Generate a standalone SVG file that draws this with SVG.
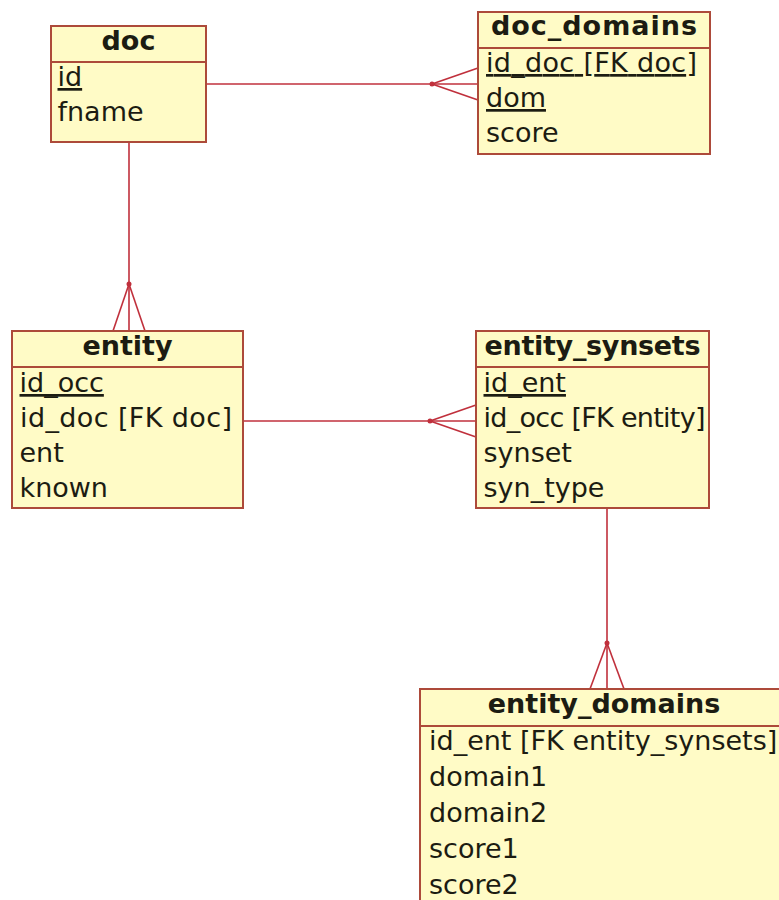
<svg xmlns="http://www.w3.org/2000/svg" width="779" height="900" viewBox="0 0 779 900">
  <style>
    .box { fill: #fffbc6; stroke: #ad4a3a; stroke-width: 2; }
    .sep { stroke: #ad4a3a; stroke-width: 2; }
    .title { font-family: "DejaVu Sans", sans-serif; font-size: 27px; font-weight: bold; fill: #1c1c12; text-anchor: middle; }
    .attr { font-family: "DejaVu Sans", sans-serif; font-size: 27px; fill: #1c1c12; }
    .key { text-decoration: underline; }
    .rel { stroke: #c0303c; stroke-width: 1.6; fill: none; }
    .dot { fill: #c0303c; }
  </style>
  <rect width="779" height="900" fill="#ffffff"/>

  <!-- relationships (one-to-many, crow's foot at the many side) -->
  <g id="connectors">
    <!-- doc 1..n doc_domains -->
    <line class="rel" x1="206" y1="84" x2="478" y2="84"/>
    <line class="rel" x1="432" y1="84" x2="478" y2="68"/>
    <line class="rel" x1="432" y1="84" x2="478" y2="100"/>
    <circle class="dot" cx="432" cy="84" r="2.5"/>
    <!-- doc 1..n entity -->
    <line class="rel" x1="129" y1="142" x2="129" y2="331"/>
    <line class="rel" x1="129" y1="284" x2="113" y2="331"/>
    <line class="rel" x1="129" y1="284" x2="145" y2="331"/>
    <circle class="dot" cx="129" cy="284" r="2.5"/>
    <!-- entity 1..n entity_synsets -->
    <line class="rel" x1="243" y1="421" x2="476" y2="421"/>
    <line class="rel" x1="430" y1="421" x2="476" y2="405"/>
    <line class="rel" x1="430" y1="421" x2="476" y2="437"/>
    <circle class="dot" cx="430" cy="421" r="2.5"/>
    <!-- entity_synsets 1..n entity_domains -->
    <line class="rel" x1="607" y1="508" x2="607" y2="689"/>
    <line class="rel" x1="607" y1="643" x2="590" y2="689"/>
    <line class="rel" x1="607" y1="643" x2="624" y2="689"/>
    <circle class="dot" cx="607" cy="643" r="2.5"/>
  </g>

  <g id="doc">
    <rect class="box" x="51" y="26" width="155" height="116"/>
    <line class="sep" x1="51" y1="62" x2="206" y2="62"/>
    <text class="title" x="128.5" y="50">doc</text>
    <text class="attr key" x="57.5" y="86">id</text>
    <text class="attr" x="57.5" y="121">fname</text>
  </g>

  <g id="doc_domains">
    <rect class="box" x="478" y="12" width="232" height="142"/>
    <line class="sep" x1="478" y1="48" x2="710" y2="48"/>
    <text class="title" x="594" y="35" textLength="206" lengthAdjust="spacing">doc_domains</text>
    <text class="attr key" x="486" y="72" textLength="211" lengthAdjust="spacing">id_doc [FK doc]</text>
    <text class="attr key" x="486" y="107">dom</text>
    <text class="attr" x="486" y="142">score</text>
  </g>

  <g id="entity">
    <rect class="box" x="12" y="331" width="231" height="177"/>
    <line class="sep" x1="12" y1="367" x2="243" y2="367"/>
    <text class="title" x="127.5" y="355">entity</text>
    <text class="attr key" x="19.5" y="392">id_occ</text>
    <text class="attr" x="20" y="427" textLength="212" lengthAdjust="spacing">id_doc [FK doc]</text>
    <text class="attr" x="19.5" y="462">ent</text>
    <text class="attr" x="19.5" y="497">known</text>
  </g>

  <g id="entity_synsets">
    <rect class="box" x="476" y="331" width="233" height="177"/>
    <line class="sep" x1="476" y1="367" x2="709" y2="367"/>
    <text class="title" x="592.5" y="355" textLength="216" lengthAdjust="spacing">entity_synsets</text>
    <text class="attr key" x="483.5" y="392">id_ent</text>
    <text class="attr" x="483.5" y="427" textLength="222" lengthAdjust="spacing">id_occ [FK entity]</text>
    <text class="attr" x="483.5" y="462">synset</text>
    <text class="attr" x="483.5" y="497">syn_type</text>
  </g>

  <g id="entity_domains">
    <rect class="box" x="420" y="689" width="370" height="230"/>
    <line class="sep" x1="420" y1="726" x2="790" y2="726"/>
    <text class="title" x="604" y="713">entity_domains</text>
    <text class="attr" x="429" y="750">id_ent [FK entity_synsets]</text>
    <text class="attr" x="429" y="786">domain1</text>
    <text class="attr" x="429" y="822">domain2</text>
    <text class="attr" x="429" y="858">score1</text>
    <text class="attr" x="429" y="894">score2</text>
  </g>
</svg>
